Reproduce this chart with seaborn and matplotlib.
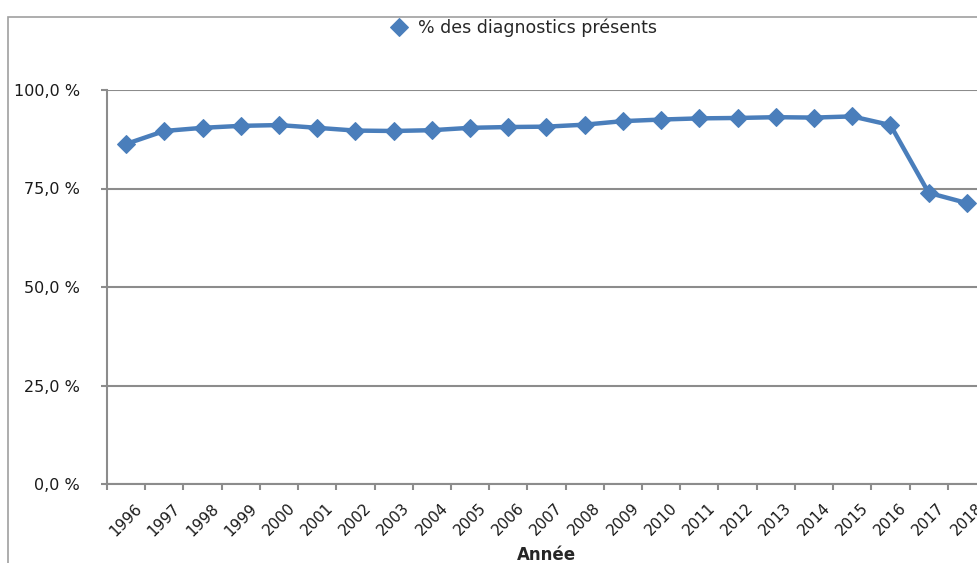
import matplotlib
matplotlib.use("Agg")
import matplotlib.pyplot as plt
import matplotlib.patches as mpatches
from matplotlib.ticker import FixedLocator
import pandas as pd
import seaborn as sns

annees = [str(a) for a in range(1996, 2019)]
pct_diagnostics = [86.3, 89.6, 90.4, 90.9, 91.1, 90.4, 89.7, 89.6, 89.8, 90.4,
                   90.6, 90.7, 91.2, 92.1, 92.5, 92.8, 92.9, 93.1, 93.0, 93.3,
                   91.1, 73.9, 71.3]
yticks = [0, 25, 50, 75, 100]
ylabels = ["0,0 %", "25,0 %", "50,0 %", "75,0 %", "100,0 %"]

BLEU = "#4A7EBB"
GRIS = "#8C8C8C"

sns.set_theme(style="white")
plt.rcParams['font.family'] = ['DejaVu Sans']

df = pd.DataFrame({"annee": annees, "pct": pct_diagnostics})

fig = plt.figure(figsize=(9.78, 5.63), dpi=100)
ax = fig.add_axes([107 / 978, 1 - 484 / 563, 879 / 978, 394 / 563])

# cadre extérieur du graphique (coupé à droite et en bas)
fig.patches.append(mpatches.Rectangle((8 / 978, -0.1), 1.2, 0.1 + (563 - 17) / 563,
                                      transform=fig.transFigure, fill=False,
                                      edgecolor="#A0A0A0", linewidth=1.2))

sns.lineplot(data=df, x="annee", y="pct", ax=ax, color=BLEU, linewidth=3.2,
             marker="D", markersize=9, markeredgecolor=BLEU,
             label="% des diagnostics présents", sort=False)

ax.set_xlim(-0.5, len(annees) - 0.5)
ax.set_ylim(0, 100)
ax.set_yticks(yticks)
ax.set_yticklabels(ylabels, fontsize=11.5, color="#1A1A1A")
ax.yaxis.grid(True, color=GRIS, linewidth=1.5)
ax.set_axisbelow(True)

ax.set_xticks(range(len(annees)))
ax.set_xticklabels(annees, rotation=45, ha="center", fontsize=11, color="#1A1A1A")
ax.xaxis.set_minor_locator(FixedLocator([i - 0.5 for i in range(len(annees) + 1)]))
ax.tick_params(axis="x", which="major", length=0, pad=12)
ax.tick_params(axis="x", which="minor", length=4.5, width=1.5, color=GRIS, bottom=True)
ax.tick_params(axis="y", length=4.5, width=1.5, color=GRIS, left=True, pad=15)

for cote in ["top", "right"]:
    ax.spines[cote].set_visible(False)
for cote in ["left", "bottom"]:
    ax.spines[cote].set_color(GRIS)
    ax.spines[cote].set_linewidth(1.5)

ax.set_xlabel("Année", fontsize=12, fontweight="bold", labelpad=5)
ax.set_ylabel("")

leg = ax.legend(loc="upper center", bbox_to_anchor=(0.474, 1.222), frameon=False,
                fontsize=12.5, handlelength=1.0, handletextpad=0.6)
for h in leg.legend_handles:
    h.set_linestyle("none")

fig.savefig("out.png", dpi=100)
